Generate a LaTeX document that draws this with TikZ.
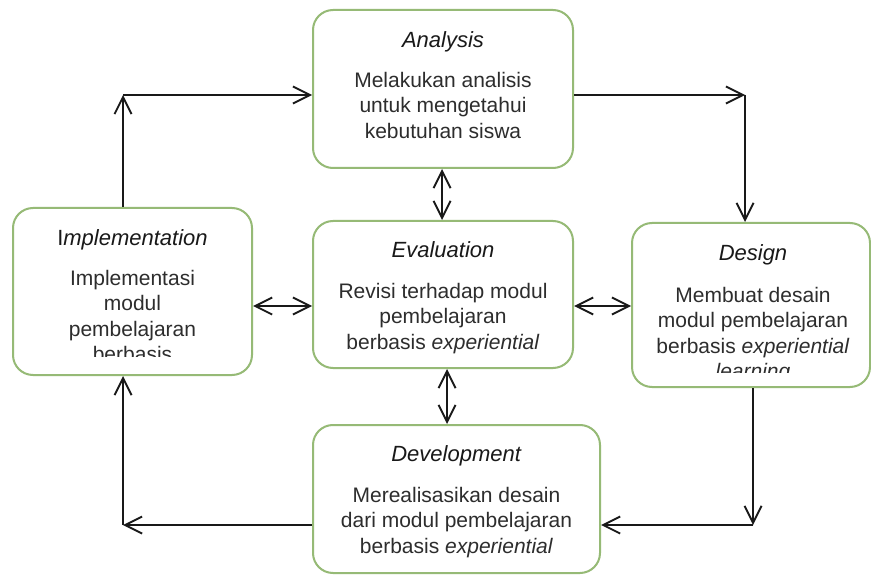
\documentclass[tikz,border=0pt]{standalone}
\usepackage{fontspec}
\setmainfont{Liberation Sans}
\usetikzlibrary{arrows.meta,calc}
\definecolor{boxgreen}{RGB}{150,186,118}
\definecolor{txt}{RGB}{45,45,45}
\definecolor{ink}{RGB}{25,25,25}
\begin{document}
\begin{tikzpicture}[x=1pt,y=-1pt,
  box/.style={draw=boxgreen,line width=2pt,rounded corners=20pt,inner sep=0pt},
  ttl/.style={font=\fontsize{22}{26}\selectfont,text=ink,anchor=base,inner sep=0pt},
  body/.style={font=\fontsize{21}{25.5}\selectfont,text=txt,align=center,anchor=north,inner sep=0pt},
  arr/.style={-{Straight Barb[length=17pt,width=17pt]},line width=1.9pt,draw=ink},
  darr/.style={{Straight Barb[length=17pt,width=17pt]}-{Straight Barb[length=17pt,width=17pt]},line width=1.9pt,draw=ink}]
\useasboundingbox (0,0) rectangle (871,575);
\fill[white] (0,0) rectangle (871,575);

% boxes
\node[box,minimum width=260pt,minimum height=158pt] (ana) at (443,89) {};
\node[box,minimum width=239pt,minimum height=167pt] (imp) at (132.5,291.5) {};
\node[box,minimum width=260pt,minimum height=147pt] (eva) at (443,294.5) {};
\node[box,minimum width=238pt,minimum height=164pt] (des) at (751,305) {};
\node[box,minimum width=287pt,minimum height=148pt] (dev) at (456.5,499) {};

% texts
\node[ttl] (anaT) at (443,48) {\textit{Analysis}};
\node[body] (anaB) at (443,71) {\rule{0pt}{16pt}Melakukan analisis\\untuk mengetahui\\kebutuhan siswa};

\begin{scope}
\clip (13,208) rectangle (252,356);
\node[ttl] (impT) at (132.5,246) {I\textit{mplementation}};
\node[body] (impB) at (132.5,269) {\rule{0pt}{16pt}Implementasi\\modul\\pembelajaran\\berbasis};
\end{scope}

\node[ttl] (evaT) at (443,258) {\textit{Evaluation}};
\node[body] (evaB) at (443,282) {\rule{0pt}{16pt}Revisi terhadap modul\\pembelajaran\\berbasis \textit{experiential}};

\begin{scope}
\clip (632,223) rectangle (871,372);
\node[ttl] (desT) at (753,261) {\textit{Design}};
\node[body] (desB) at (753,286) {\rule{0pt}{16pt}Membuat desain\\modul pembelajaran\\berbasis \textit{experiential}\\\textit{learning}};
\end{scope}

\node[ttl] (devT) at (456.5,461) {\textit{Development}};
\node[body] (devB) at (456.5,486) {\rule{0pt}{16pt}Merealisasikan desain\\dari modul pembelajaran\\berbasis \textit{experiential}};

% corner coordinates
\coordinate (c1) at (123,95);
\coordinate (c2) at (745,95);
\coordinate (c3) at (753,525);
\coordinate (c4) at (123,525);
\coordinate (h) at (0,306);
\coordinate (v1) at (442,0);
\coordinate (v2) at (447,0);

% cycle connectors
\draw[arr] (c1 |- imp.north) -- (c1);
\draw[arr] (c1) -- (c1 -| ana.west);
\draw[arr] (c2 -| ana.east) -- (c2);
\draw[arr] (c2) -- (c2 |- des.north);
\draw[arr] (c3 |- des.south) -- (c3);
\draw[arr] (c3) -- (c3 -| dev.east);
\draw[arr] (c4 -| dev.west) -- (c4);
\draw[arr] (c4) -- (c4 |- imp.south);

% double arrows
\draw[darr] (v1 |- ana.south) -- (v1 |- eva.north);
\draw[darr] (v2 |- eva.south) -- (v2 |- dev.north);
\draw[darr] (h -| imp.east) -- (h -| eva.west);
\draw[darr] (h -| eva.east) -- (h -| des.west);
\end{tikzpicture}
\end{document}
